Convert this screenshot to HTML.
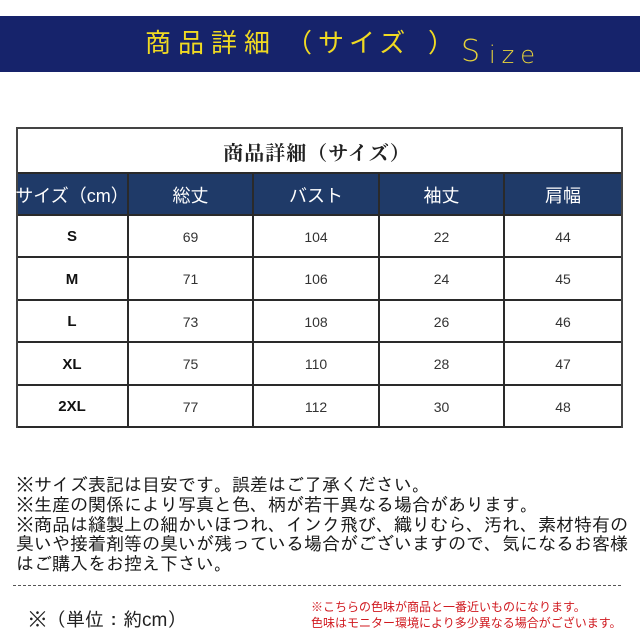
<!DOCTYPE html>
<html lang="ja">
<head>
<meta charset="utf-8">
<style>
  html,body{margin:0;padding:0;background:#fff;}
  body{width:640px;height:640px;position:relative;overflow:hidden;
       font-family:"Liberation Sans","Noto Sans CJK JP",sans-serif;}
  .abs{position:absolute;}
  .banner{left:0;top:16px;width:640px;height:56px;background:#16236b;}
  .bt{color:#f0da22;font-family:"Liberation Sans","Noto Sans CJK JP",sans-serif;font-size:26px;line-height:30px;white-space:nowrap;}
  .hl{position:absolute;height:2px;background:#2a2a2a;}
  .vl{position:absolute;width:2px;background:#2a2a2a;}
  .hdr{left:16px;top:173px;width:606px;height:42px;background:#1f3a68;}
  .cell{position:absolute;display:flex;align-items:center;justify-content:center;white-space:nowrap;}
  .h{color:#fff;font-size:18px;font-family:"Liberation Sans","Noto Sans CJK JP",sans-serif;}
  .sz{font-weight:bold;font-size:15px;color:#111;font-family:"Liberation Sans",sans-serif;}
  .num{font-size:14px;color:#333;font-family:"Liberation Sans",sans-serif;}
  .notes{left:16px;top:476px;font-size:18px;line-height:19.8px;color:#1a1a1a;white-space:nowrap;
         font-family:"Liberation Sans","IPAGothic","Noto Sans CJK JP",sans-serif;}
  .dash{left:13px;top:585px;width:609px;height:1px;
        background:repeating-linear-gradient(90deg,#555 0 3px,transparent 3px 5px);}
  .unit{left:28px;top:609px;font-size:19px;line-height:24px;color:#222;white-space:nowrap;
        font-family:"Liberation Sans","IPAGothic","Noto Sans CJK JP",sans-serif;}
  .red{left:311px;top:599px;font-size:12px;line-height:16px;color:#d0191f;white-space:nowrap;
       font-family:"Liberation Sans","Noto Sans CJK JP",sans-serif;}
</style>
</head>
<body>

<!-- Banner -->
<div class="abs banner"></div>
<div class="abs bt" style="left:145px;top:28px;letter-spacing:7px;">商品詳細</div>
<div class="abs bt" style="left:286px;top:28px;">（</div>
<div class="abs bt" style="left:318px;top:28px;letter-spacing:5px;">サイズ</div>
<div class="abs bt" style="left:428px;top:28px;">）</div>
<div class="abs bt" style="left:461px;top:37px;font-size:30px;font-family:'DejaVu Sans ExtraLight','DejaVu Sans',sans-serif;font-weight:200;color:#e6d23a;">S</div>
<div class="abs bt" style="left:489px;top:40px;font-size:24px;letter-spacing:6px;font-family:'DejaVu Sans ExtraLight','DejaVu Sans',sans-serif;font-weight:200;color:#e6d23a;">ize</div>

<!-- Table -->
<div class="abs hdr"></div>

<!-- horizontal lines -->
<div class="hl" style="left:16px;top:127px;width:607px;background:#444;"></div>
<div class="hl" style="left:16px;top:172px;width:607px;"></div>
<div class="hl" style="left:16px;top:214px;width:607px;"></div>
<div class="hl" style="left:16px;top:256px;width:607px;"></div>
<div class="hl" style="left:16px;top:299px;width:607px;"></div>
<div class="hl" style="left:16px;top:341px;width:607px;"></div>
<div class="hl" style="left:16px;top:384px;width:607px;"></div>
<div class="hl" style="left:16px;top:426px;width:607px;"></div>

<!-- vertical lines -->
<div class="vl" style="left:16px;top:127px;height:301px;background:#444;"></div>
<div class="vl" style="left:621px;top:127px;height:301px;background:#444;"></div>
<div class="vl" style="left:127px;top:173px;height:255px;"></div>
<div class="vl" style="left:252px;top:173px;height:255px;"></div>
<div class="vl" style="left:378px;top:173px;height:255px;"></div>
<div class="vl" style="left:503px;top:173px;height:255px;"></div>

<!-- title -->
<div class="cell" style="left:16px;top:129px;width:602px;height:44px;font-family:'Liberation Serif','Noto Serif CJK JP','Noto Serif CJK SC',serif;font-weight:bold;font-size:20px;color:#222;letter-spacing:1px;">商品詳細（サイズ）</div>

<!-- header -->
<div class="cell h" style="left:16px;top:174px;width:112px;height:41px;">サイズ（cm）</div>
<div class="cell h" style="left:128px;top:174px;width:125px;height:41px;">総丈</div>
<div class="cell h" style="left:253px;top:174px;width:126px;height:41px;">バスト</div>
<div class="cell h" style="left:379px;top:174px;width:125px;height:41px;">袖丈</div>
<div class="cell h" style="left:504px;top:174px;width:118px;height:41px;">肩幅</div>

<!-- rows -->
<div class="cell sz" style="left:16px;top:216px;width:112px;height:41px;">S</div>
<div class="cell num" style="left:128px;top:216px;width:125px;height:41px;">69</div>
<div class="cell num" style="left:253px;top:216px;width:126px;height:41px;">104</div>
<div class="cell num" style="left:379px;top:216px;width:125px;height:41px;">22</div>
<div class="cell num" style="left:504px;top:216px;width:118px;height:41px;">44</div>

<div class="cell sz" style="left:16px;top:258px;width:112px;height:42px;">M</div>
<div class="cell num" style="left:128px;top:258px;width:125px;height:42px;">71</div>
<div class="cell num" style="left:253px;top:258px;width:126px;height:42px;">106</div>
<div class="cell num" style="left:379px;top:258px;width:125px;height:42px;">24</div>
<div class="cell num" style="left:504px;top:258px;width:118px;height:42px;">45</div>

<div class="cell sz" style="left:16px;top:301px;width:112px;height:41px;">L</div>
<div class="cell num" style="left:128px;top:301px;width:125px;height:41px;">73</div>
<div class="cell num" style="left:253px;top:301px;width:126px;height:41px;">108</div>
<div class="cell num" style="left:379px;top:301px;width:125px;height:41px;">26</div>
<div class="cell num" style="left:504px;top:301px;width:118px;height:41px;">46</div>

<div class="cell sz" style="left:16px;top:343px;width:112px;height:42px;">XL</div>
<div class="cell num" style="left:128px;top:343px;width:125px;height:42px;">75</div>
<div class="cell num" style="left:253px;top:343px;width:126px;height:42px;">110</div>
<div class="cell num" style="left:379px;top:343px;width:125px;height:42px;">28</div>
<div class="cell num" style="left:504px;top:343px;width:118px;height:42px;">47</div>

<div class="cell sz" style="left:16px;top:386px;width:112px;height:41px;">2XL</div>
<div class="cell num" style="left:128px;top:386px;width:125px;height:41px;">77</div>
<div class="cell num" style="left:253px;top:386px;width:126px;height:41px;">112</div>
<div class="cell num" style="left:379px;top:386px;width:125px;height:41px;">30</div>
<div class="cell num" style="left:504px;top:386px;width:118px;height:41px;">48</div>

<!-- notes -->
<div class="abs notes">※サイズ表記は目安です。誤差はご了承ください。<br>※生産の関係により写真と色、柄が若干異なる場合があります。<br>※商品は縫製上の細かいほつれ、インク飛び、織りむら、汚れ、素材特有の<br>臭いや接着剤等の臭いが残っている場合がございますので、気になるお客様<br>はご購入をお控え下さい。</div>

<div class="abs dash"></div>

<div class="abs unit">※（単位：約cm）</div>

<div class="abs red">※こちらの色味が商品と一番近いものになります。<br>色味はモニター環境により多少異なる場合がございます。</div>

</body>
</html>
